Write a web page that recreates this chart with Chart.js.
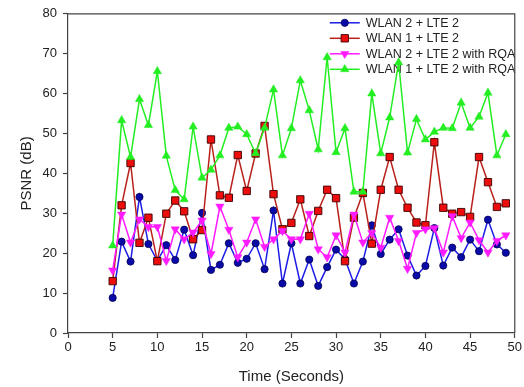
<!DOCTYPE html>
<html>
<head>
<meta charset="utf-8">
<script src="https://cdn.jsdelivr.net/npm/chart.js@4/dist/chart.umd.min.js"></script>
<style>
  html, body { margin: 0; padding: 0; background: #fff; }
  #wrap { width: 524px; height: 387px; }
</style>
</head>
<body>
<div id="wrap"><canvas id="psnrChart" width="524" height="387"></canvas></div>
<script>
  // -----------------------------
  // data
  // -----------------------------
  const times = [5, 6, 7, 8, 9, 10, 11, 12, 13, 14, 15, 16, 17, 18, 19, 20, 21, 22, 23, 24, 25, 26, 27,
                 28, 29, 30, 31, 32, 33, 34, 35, 36, 37, 38, 39, 40, 41, 42, 43, 44, 45, 46, 47, 48, 49];

  const wlan2Lte2 = [8.8, 22.9, 17.9, 34.1, 22.3, 18.1, 22.0, 18.3, 25.9, 19.5, 30.1, 15.8, 17.1, 22.5, 17.6,
                     18.6, 22.5, 16.0, 30.7, 12.4, 22.5, 12.4, 18.4, 11.8, 16.5, 20.9, 18.5, 12.4, 17.9, 27.0,
                     19.8, 23.4, 26.0, 19.4, 14.4, 16.8, 26.3, 16.9, 21.4, 19.0, 23.4, 20.5, 28.4, 22.2, 20.1];

  const wlan1Lte2 = [13.0, 32.0, 42.6, 22.6, 28.9, 18.0, 29.9, 33.2, 30.5, 23.5, 25.8, 48.5, 34.5, 33.9, 44.6,
                     35.6, 45.0, 51.9, 34.8, 26.0, 27.6, 33.5, 24.3, 30.6, 35.9, 33.8, 18.0, 28.9, 35.1, 22.4,
                     35.9, 44.1, 35.9, 31.4, 27.7, 27.0, 47.8, 31.4, 29.9, 30.3, 29.1, 44.1, 37.8, 31.6, 32.5];

  const wlan2Lte2Rqa = [15.7, 29.7, 22.7, 28.5, 26.6, 26.6, 18.1, 26.0, 23.5, 25.2, 28.2, 19.8, 31.7, 25.9, 19.0,
                        22.7, 28.5, 21.6, 23.5, 25.6, 23.5, 23.5, 29.9, 21.0, 19.0, 24.5, 20.2, 29.7, 22.7, 25.1,
                        21.4, 28.9, 23.1, 16.1, 25.1, 26.0, 26.3, 20.2, 29.3, 23.8, 27.7, 23.3, 20.2, 23.1, 24.5];

  const wlan1Lte2Rqa = [21.9, 53.3, 44.1, 58.6, 52.1, 65.6, 44.4, 35.8, 33.5, 51.7, 38.9, 40.9, 44.5, 51.4, 51.7,
                        49.8, 45.0, 51.4, 61.0, 44.5, 51.3, 63.3, 55.8, 46.0, 69.1, 45.3, 51.3, 35.4, 35.4, 60.0,
                        45.0, 54.0, 67.8, 45.2, 53.6, 48.5, 50.4, 51.4, 51.3, 57.7, 51.4, 54.2, 60.2, 44.5, 49.8];

  const seriesLabels = ["WLAN 2 + LTE 2", "WLAN 1 + LTE 2", "WLAN 2 + LTE 2 with RQA", "WLAN 1 + LTE 2 with RQA"];
  const xTicks = [0, 5, 10, 15, 20, 25, 30, 35, 40, 45, 50];
  const yTicks = [0, 10, 20, 30, 40, 50, 60, 70, 80];

  const FONT = "'Liberation Sans', Arial, sans-serif";
  const AXIS_COLOR = "#444";

  function toPoints(values) {
    return times.map((t, i) => ({ x: t, y: values[i] }));
  }

  // -----------------------------
  // legend inside the plot (top right), drawn under the lines
  // -----------------------------
  const innerLegend = {
    id: "innerLegend",
    beforeDatasetsDraw(chart) {
      const ctx = chart.ctx;
      const area = chart.chartArea;
      const x0 = area.right - 185;
      const y0 = area.top + 9;
      const rowH = 15.5;
      ctx.save();
      ctx.font = "12.5px " + FONT;
      ctx.textBaseline = "middle";
      ctx.textAlign = "left";
      chart.data.datasets.forEach((ds, i) => {
        const y = y0 + i * rowH;
        ctx.strokeStyle = ds.borderColor;
        ctx.lineWidth = ds.borderWidth;
        ctx.beginPath();
        ctx.moveTo(x0, y);
        ctx.lineTo(x0 + 30, y);
        ctx.stroke();
        ctx.fillStyle = ds.pointBackgroundColor;
        ctx.strokeStyle = ds.pointBorderColor;
        ctx.lineWidth = ds.pointBorderWidth;
        Chart.helpers.drawPoint(ctx, {
          pointStyle: ds.pointStyle,
          rotation: ds.pointRotation || 0,
          radius: ds.pointRadius,
          borderWidth: ds.pointBorderWidth
        }, x0 + 15, y);
        ctx.fillStyle = "#222";
        ctx.fillText(ds.label, x0 + 36, y + 0.5);
      });
      ctx.restore();
    }
  };

  // box around the plot area (top and right sides)
  const plotFrame = {
    id: "plotFrame",
    afterDraw(chart) {
      const a = chart.chartArea;
      const ctx = chart.ctx;
      ctx.save();
      ctx.strokeStyle = AXIS_COLOR;
      ctx.lineWidth = 1.2;
      ctx.beginPath();
      ctx.moveTo(a.left, a.top);
      ctx.lineTo(a.right, a.top);
      ctx.lineTo(a.right, a.bottom);
      ctx.stroke();
      ctx.restore();
    }
  };

  // -----------------------------
  // chart
  // -----------------------------
  const ctx = document.getElementById("psnrChart").getContext("2d");

  new Chart(ctx, {
    type: "line",
    data: {
      datasets: [
        {
          label: seriesLabels[0],
          data: toPoints(wlan2Lte2),
          borderColor: "#1c1ce6",
          borderWidth: 1.5,
          pointStyle: "circle",
          pointRadius: 3.6,
          pointBackgroundColor: "#0a0aa8",
          pointBorderColor: "#000050",
          pointBorderWidth: 0.8,
          order: 4
        },
        {
          label: seriesLabels[1],
          data: toPoints(wlan1Lte2),
          borderColor: "#b8201c",
          borderWidth: 1.5,
          pointStyle: "rect",
          pointRadius: 5.2,
          pointBackgroundColor: "#ee0d0d",
          pointBorderColor: "#3a0000",
          pointBorderWidth: 0.9,
          order: 3
        },
        {
          label: seriesLabels[2],
          data: toPoints(wlan2Lte2Rqa),
          borderColor: "#ff1aff",
          borderWidth: 1.5,
          pointStyle: "triangle",
          pointRotation: 180,
          pointRadius: 4.8,
          pointBackgroundColor: "#ff1aff",
          pointBorderColor: "#ff1aff",
          pointBorderWidth: 0.5,
          order: 2
        },
        {
          label: seriesLabels[3],
          data: toPoints(wlan1Lte2Rqa),
          borderColor: "#22ee22",
          borderWidth: 1.5,
          pointStyle: "triangle",
          pointRadius: 4.8,
          pointBackgroundColor: "#22ee22",
          pointBorderColor: "#22ee22",
          pointBorderWidth: 0.5,
          order: 1
        }
      ]
    },
    options: {
      responsive: false,
      animation: false,
      events: [],
      layout: { padding: { top: 11, right: 9, left: 0, bottom: 0 } },
      elements: { line: { tension: 0, fill: false } },
      plugins: {
        legend: { display: false },
        tooltip: { enabled: false }
      },
      scales: {
        x: {
          type: "linear",
          min: 0,
          max: 50,
          afterBuildTicks: (axis) => { axis.ticks = xTicks.map(v => ({ value: v })); },
          afterFit: (axis) => { axis.height = 54; },
          border: { display: true, color: AXIS_COLOR, width: 1.2 },
          grid: { drawOnChartArea: false, drawTicks: true, tickLength: 5, color: AXIS_COLOR, tickWidth: 1.2 },
          ticks: {
            maxRotation: 0,
            autoSkip: false,
            padding: 2,
            color: "#222",
            font: { family: FONT, size: 13 }
          },
          title: {
            display: true,
            text: "Time (Seconds)",
            color: "#222",
            font: { family: FONT, size: 15 },
            padding: { top: 0, bottom: 1 }
          }
        },
        y: {
          type: "linear",
          min: 0,
          max: 80,
          afterBuildTicks: (axis) => { axis.ticks = yTicks.map(v => ({ value: v })); },
          afterFit: (axis) => { axis.width = 68; },
          border: { display: true, color: AXIS_COLOR, width: 1.2 },
          grid: { drawOnChartArea: false, drawTicks: true, tickLength: 5, color: AXIS_COLOR, tickWidth: 1.2 },
          ticks: {
            autoSkip: false,
            padding: 6,
            color: "#222",
            font: { family: FONT, size: 13 }
          },
          title: {
            display: true,
            text: "PSNR (dB)",
            color: "#222",
            font: { family: FONT, size: 15 },
            padding: { top: 18, bottom: 0 }
          }
        }
      }
    },
    plugins: [innerLegend, plotFrame]
  });
</script>
</body>
</html>
